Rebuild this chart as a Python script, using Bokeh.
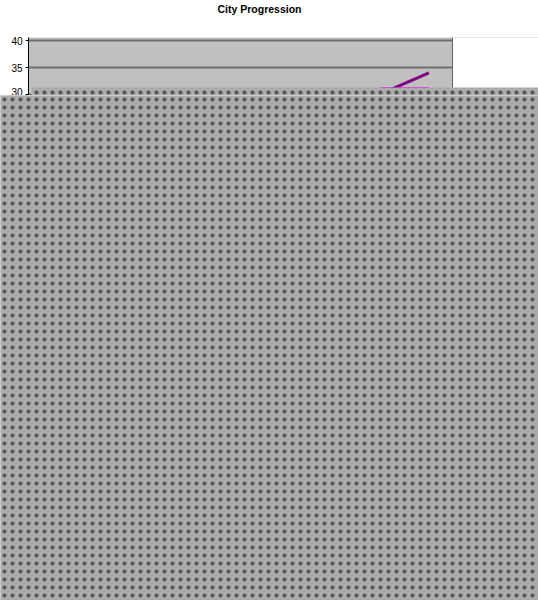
from bokeh.plotting import figure
from bokeh.layouts import column
from bokeh.models import BoxAnnotation, Span, Range1d, FixedTicker
from bokeh.embed import file_html
from bokeh.resources import INLINE

# Data (only the top of the chart is legible; hidden values are estimates)
years = ["1992", "1993", "1994", "1995", "1996", "1997", "1998", "1999", "2000"]
city_1 = [10, 11, 12, 13, 14, 15, 16, 17, 18]
city_2 = [8, 10, 13, 16, 20, 24, 28, 31.1, 31.1]
city_3 = [5, 6, 7, 8, 9, 10, 11, 12, 13]
city_4 = [15, 16, 17, 18, 19, 20, 21, 22, 23]
city_5 = [12, 14, 15, 17, 19, 22, 25, 30.2, 34.0]
series_names = ["City 1", "City 2", "City 3", "City 4", "City 5"]
y_ticks = [0, 5, 10, 15, 20, 25, 30, 35, 40]
colors = ["#000080", "#FF00FF", "#FFFF00", "#00FFFF", "#800080"]

W = 538
TITLE_H = 24          # height of the title strip
TOP_H = 95            # bottom of the chart strip (page pixels)
FRAME_TOP = 37        # top of the plot frame (page pixels)
px_per_unit = 27 / 5.0
n = len(years)
x_pos = [i + 0.5 for i in range(n)]
plot_w = 424.0                      # width of the grey plot area
frame_w = W - 28                    # frame runs to the right edge
y_top = 40 + (40 - FRAME_TOP) / px_per_unit
y_bot = y_top - (TOP_H - FRAME_TOP) / px_per_unit

GREY = "#ABABAB"
hatch = dict(fill_color=GREY, fill_alpha=1.0, line_color=None,
             hatch_pattern="dot", hatch_color="#1A1A1A", hatch_scale=8,
             hatch_weight=0.4, hatch_alpha=0.6, level="overlay")

def no_align(fig):
    if hasattr(fig, "frame_align"):
        fig.frame_align = False

# title strip
t = figure(width=W, height=TITLE_H, x_axis_location=None, y_axis_location=None,
           output_backend="svg", toolbar_location=None, title="City Progression",
           min_border_left=28, min_border_right=0, min_border_top=16,
           min_border_bottom=0)
no_align(t)
t.outline_line_color = None
t.grid.visible = False
t.background_fill_color = "white"
t.title.align = "left"
t.title.offset = 189
t.title.vertical_align = "top"
t.title.standoff = 0
t.title.text_font = "Liberation Sans"
t.title.text_font_size = "10.5px"
t.title.text_font_style = "bold"
t.title.text_color = "black"

# chart strip
p = figure(width=W, height=TOP_H - TITLE_H, x_range=Range1d(0, n * frame_w / plot_w),
           y_range=Range1d(y_bot, y_top), x_axis_location=None,
           output_backend="svg", toolbar_location=None,
           min_border_left=28, min_border_right=0,
           min_border_top=FRAME_TOP - TITLE_H, min_border_bottom=0)
no_align(p)
p.background_fill_color = "#C0C0C0"
p.border_fill_color = "white"
p.outline_line_color = None
p.xgrid.grid_line_color = None
p.ygrid.grid_line_color = "#6E6E6E"
p.ygrid.grid_line_width = 2

p.yaxis.ticker = FixedTicker(ticks=y_ticks)
p.yaxis.axis_line_color = "black"
p.yaxis.major_tick_line_color = "black"
p.yaxis.major_tick_out = 3
p.yaxis.major_tick_in = 0
p.yaxis.minor_tick_line_color = None
p.yaxis.major_label_text_font = "Liberation Sans"
p.yaxis.major_label_text_font_size = "10px"
p.yaxis.major_label_text_color = "black"
p.yaxis.major_label_standoff = 3

for name, vals, c in zip(series_names, [city_1, city_2, city_3, city_4, city_5], colors):
    p.line(x_pos, vals, line_color=c, line_width=3)

# white area right of the plot area, and the plot area's right edge
p.add_layout(BoxAnnotation(left=n, fill_color="white", fill_alpha=1.0,
                           line_color=None, level="overlay"))
p.add_layout(Span(location=n, dimension="height", line_color="#606060",
                  line_width=1, level="overlay"))
# dotted grey screen: notch in the chart strip
p.add_layout(BoxAnnotation(left=31, top=87 - TITLE_H, left_units="canvas",
                           top_units="canvas", **hatch))

# dotted grey screen: rest of the picture
q = figure(width=W, height=600 - TOP_H, x_axis_location=None,
           y_axis_location=None, output_backend="svg", toolbar_location=None,
           min_border=0)
no_align(q)
q.outline_line_color = None
q.grid.visible = False
q.background_fill_color = GREY
q.border_fill_color = GREY
q.add_layout(BoxAnnotation(**hatch))

layout = column(t, p, q, spacing=0)
open("out.html", "w").write(file_html(layout, INLINE))
